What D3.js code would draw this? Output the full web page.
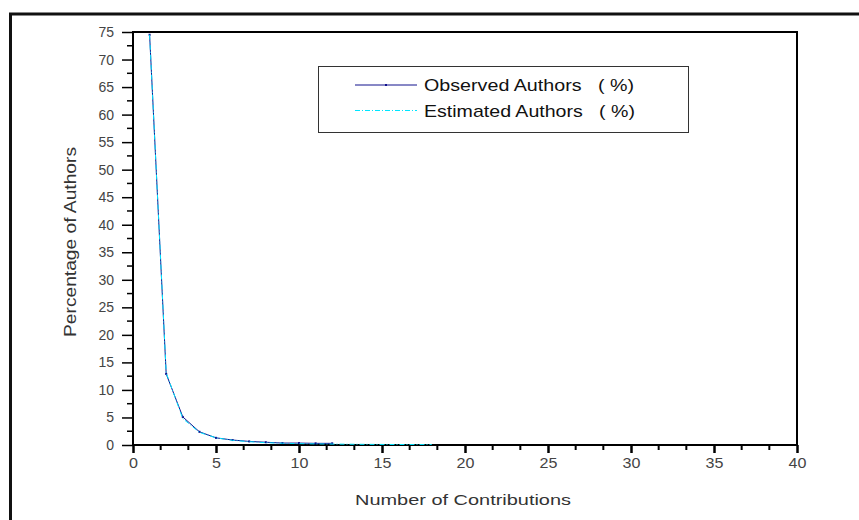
<!DOCTYPE html>
<html>
<head>
<meta charset="utf-8">
<script src="https://cdn.jsdelivr.net/npm/d3@7"></script>
<style>
	body { margin: 0; background: #fff; }
	svg { display: block; font-family: Arial, "Liberation Sans", sans-serif; }
</style>
</head>
<body>
<svg></svg>
<script>
const observedX = [1, 2, 3, 4, 5, 6, 7, 8, 9, 10, 11, 12];
const observedY = [74.5, 12.9, 5.1, 2.4, 1.3, 0.9, 0.65, 0.5, 0.35, 0.35, 0.3, 0.3];
const estimatedX = [1, 2, 3, 4, 5, 6, 7, 8, 9, 10, 11, 12, 13, 14, 15, 16, 17, 18];
const estimatedY = [74.5, 13.1, 4.8, 2.3, 1.3, 0.85, 0.6, 0.42, 0.32, 0.25, 0.2, 0.17, 0.14, 0.12, 0.1, 0.09, 0.08, 0.07];
const xTicks = [0, 5, 10, 15, 20, 25, 30, 35, 40];
const yTicks = [0, 5, 10, 15, 20, 25, 30, 35, 40, 45, 50, 55, 60, 65, 70, 75];
const seriesNames = ["Observed Authors   ( %)", "Estimated Authors   ( %)"];

function drawChart() {
	const width = 859;
	const height = 520;
	const left = 133, right = 797, top = 32, bottom = 445;

	let observed = observedX.map((x, i) => ({x: x, y: observedY[i]}));
	let estimated = estimatedX.map((x, i) => ({x: x, y: estimatedY[i]}));

	let xScale = d3.scaleLinear()
		.domain([0, 40])
		.range([left, right]);

	let yScale = d3.scaleLinear()
		.domain([0, 75])
		.range([bottom, top]);

	let svg = d3.select("svg")
		.attr("width", width)
		.attr("height", height);

	// outer frame, cut off at right and bottom like the picture
	svg.append("rect")
		.attr("x", 10.5)
		.attr("y", 14)
		.attr("width", 1000)
		.attr("height", 1000)
		.attr("fill", "none")
		.attr("stroke", "#111")
		.attr("stroke-width", 3);

	// minor ticks (origin style: 1 minor on y, 2 minor on x)
	let xMinor = d3.range(0, 40, 5 / 3).filter((d) => Math.abs(d % 5) > 0.01 && Math.abs(d % 5 - 5) > 0.01);
	let yMinor = d3.range(2.5, 75, 5);

	let xAxis = d3.axisBottom(xScale)
		.tickValues(xTicks)
		.tickSize(8)
		.tickSizeOuter(0)
		.tickPadding(5);

	let yAxis = d3.axisLeft(yScale)
		.tickValues(yTicks)
		.tickSize(11)
		.tickSizeOuter(0)
		.tickPadding(8);

	svg.append("g")
		.attr("transform", `translate(0, ${bottom})`)
		.selectAll("line")
		.data(xMinor)
		.enter()
		.append("line")
			.attr("x1", (d) => xScale(d))
			.attr("x2", (d) => xScale(d))
			.attr("y1", 0)
			.attr("y2", 5)
			.attr("stroke", "#000")
			.attr("stroke-width", 2);

	svg.append("g")
		.attr("transform", `translate(${left}, 0)`)
		.selectAll("line")
		.data(yMinor)
		.enter()
		.append("line")
			.attr("y1", (d) => yScale(d))
			.attr("y2", (d) => yScale(d))
			.attr("x1", 0)
			.attr("x2", -6)
			.attr("stroke", "#000")
			.attr("stroke-width", 1.5);

	let gx = svg.append("g")
		.attr("transform", `translate(0, ${bottom})`)
		.call(xAxis);
	gx.selectAll("line").attr("stroke-width", 2.5);
	gx.select(".domain").remove();
	gx.selectAll("text")
		.style("font-size", "14px")
		.attr("fill", "#444")
		.attr("transform", "scale(1.15, 1)");

	let gy = svg.append("g")
		.attr("transform", `translate(${left}, 0)`)
		.call(yAxis);
	gy.selectAll("line").attr("stroke-width", 1.5);
	gy.select(".domain").remove();
	gy.selectAll("text")
		.style("font-size", "14px")
		.attr("fill", "#444");

	// plot frame
	svg.append("rect")
		.attr("x", left)
		.attr("y", top)
		.attr("width", right - left)
		.attr("height", bottom - top)
		.attr("fill", "none")
		.attr("stroke", "#000")
		.attr("stroke-width", 2);

	svg.append("defs")
		.append("clipPath")
			.attr("id", "plotClip")
		.append("rect")
			.attr("x", left)
			.attr("y", top)
			.attr("width", right - left)
			.attr("height", bottom - top);

	let line = d3.line()
		.x((d) => xScale(d.x))
		.y((d) => yScale(d.y));

	let plot = svg.append("g").attr("clip-path", "url(#plotClip)");

	plot.append("path")
		.datum(observed)
		.attr("d", line)
		.attr("fill", "none")
		.attr("stroke", "#10108c")
		.attr("stroke-width", 1);

	plot.selectAll(".obsMarker")
		.data(observed)
		.enter()
		.append("rect")
			.classed("obsMarker", true)
			.attr("x", (d) => xScale(d.x) - 1)
			.attr("y", (d) => yScale(d.y) - 1)
			.attr("width", 2)
			.attr("height", 2)
			.attr("fill", "#10108c");

	plot.append("path")
		.datum(estimated)
		.attr("d", line)
		.attr("fill", "none")
		.attr("stroke", "#00e5ff")
		.attr("stroke-width", 1)
		.attr("stroke-dasharray", "5,2,1,2");

	// axis titles
	svg.append("text")
		.attr("x", 355)
		.attr("y", 505)
		.attr("textLength", 216)
		.attr("lengthAdjust", "spacingAndGlyphs")
		.style("font-size", "15px")
		.attr("fill", "#333")
		.text("Number of Contributions");

	svg.append("text")
		.attr("transform", "rotate(-90)")
		.attr("x", -337)
		.attr("y", 76)
		.attr("textLength", 190)
		.attr("lengthAdjust", "spacingAndGlyphs")
		.style("font-size", "16px")
		.attr("fill", "#333")
		.text("Percentage of Authors");

	// legend
	let legend = svg.append("g");
	legend.append("rect")
		.attr("x", 318.5)
		.attr("y", 66.5)
		.attr("width", 370)
		.attr("height", 66)
		.attr("fill", "#fff")
		.attr("stroke", "#333")
		.attr("stroke-width", 1);

	let legendRows = legend.selectAll(".legendRow")
		.data(seriesNames)
		.enter()
		.append("g")
			.classed("legendRow", true)
			.attr("transform", (d, i) => `translate(0, ${85 + 25.5 * i})`);

	legendRows.append("line")
		.attr("x1", 355)
		.attr("x2", 417)
		.attr("y1", 0)
		.attr("y2", 0)
		.attr("stroke", (d, i) => i === 0 ? "#10108c" : "#00e5ff")
		.attr("stroke-width", 1)
		.attr("stroke-dasharray", (d, i) => i === 0 ? null : "5,2,1,2");

	legendRows.filter((d, i) => i === 0)
		.append("rect")
			.attr("x", 385)
			.attr("y", -1)
			.attr("width", 2)
			.attr("height", 2)
			.attr("fill", "#10108c");

	legendRows.append("text")
		.attr("x", 424)
		.attr("y", 6)
		.attr("textLength", (d, i) => i === 0 ? 210 : 211)
		.attr("lengthAdjust", "spacingAndGlyphs")
		.style("font-size", "17px")
		.attr("fill", "#111")
		.style("white-space", "pre")
		.text((d) => d);
}

document.addEventListener("DOMContentLoaded", drawChart);
</script>
</body>
</html>
